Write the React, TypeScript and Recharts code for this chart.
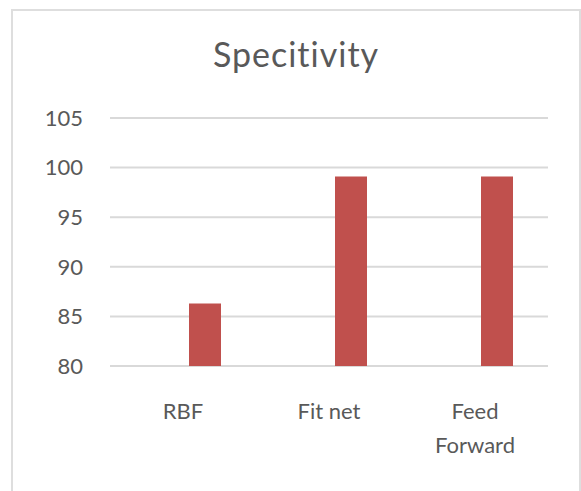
import React from 'react';
import { BarChart, Bar, XAxis, YAxis, CartesianGrid } from 'recharts';

const categories = ['RBF', 'Fit net', 'Feed Forward'];
const specificity = [86.3, 99.1, 99.1];
// the source chart has an empty first series, which pushes the bars right of centre
const emptySeries = [null, null, null];
const yTicks = [80, 85, 90, 95, 100, 105];

const chartData = categories.map((name, i) => ({
  name,
  blank: emptySeries[i],
  value: specificity[i],
}));

const FONT = 'Lato, "Open Sans", sans-serif';
const GREY = '#595959';

// long labels break onto one line per word, like Excel does in a narrow slot
const CategoryTick = (props: any) => {
  const { x, y, payload } = props;
  const label = String(payload.value);
  const lines = label.length > 8 ? label.split(' ') : [label];
  return (
    <text x={x} y={y} textAnchor="middle" fill={GREY} fontSize={22} fontFamily={FONT}>
      {lines.map((line, i) => (
        <tspan key={i} x={x} dy={i === 0 ? 16 : 34}>
          {line}
        </tspan>
      ))}
    </text>
  );
};

export default function App() {
  return (
    <div style={{ position: 'absolute', left: 0, top: 0, width: 581, height: 491, background: '#fff', overflow: 'hidden' }}>
      <div
        style={{
          position: 'absolute',
          left: 11,
          top: 9,
          width: 566,
          height: 500,
          border: '2px solid #dedede',
        }}
      />
      <div
        style={{
          position: 'absolute',
          left: 11,
          width: 570,
          top: 37,
          textAlign: 'center',
          fontFamily: FONT,
          fontSize: 34,
          lineHeight: '34px',
          letterSpacing: 1,
          color: GREY,
        }}
      >
        Specitivity
      </div>
      <BarChart
        width={581}
        height={491}
        data={chartData}
        margin={{ top: 118, right: 33, bottom: 45, left: 0 }}
        barGap={12}
        barSize={32}
        style={{ position: 'absolute', left: 0, top: 0 }}
      >
        <CartesianGrid vertical={false} stroke="#d9d9d9" strokeWidth={2} />
        <XAxis
          dataKey="name"
          axisLine={false}
          tickLine={false}
          tickSize={0}
          tickMargin={37}
          height={80}
          interval={0}
          tick={<CategoryTick />}
        />
        <YAxis
          domain={[80, 105]}
          ticks={yTicks}
          width={110}
          axisLine={false}
          tickLine={false}
          tickSize={0}
          tickMargin={27}
          tick={{ fill: GREY, fontSize: 22, fontFamily: FONT }}
        />
        <Bar dataKey="blank" fill="#4f81bd" isAnimationActive={false} />
        <Bar dataKey="value" fill="#c0504d" isAnimationActive={false} />
      </BarChart>
    </div>
  );
}
